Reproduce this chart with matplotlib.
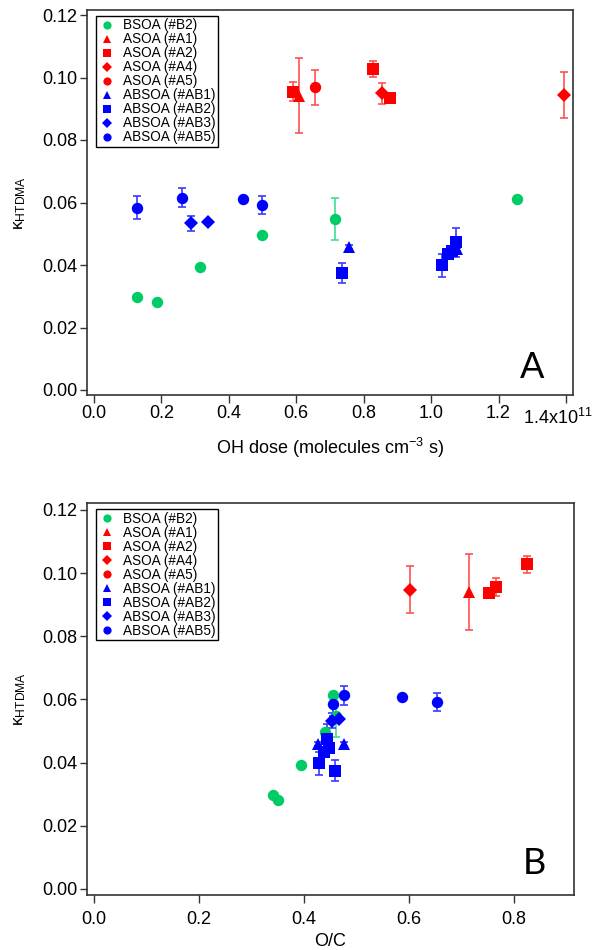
import matplotlib
matplotlib.use("Agg")
import matplotlib.pyplot as plt
from matplotlib.transforms import ScaledTranslation
import numpy as np

plt.rcParams['font.family'] = ['Liberation Sans', 'DejaVu Sans']
plt.rcParams['mathtext.default'] = 'regular'

# ---------------- data ----------------
labels = ["BSOA (#B2)", "ASOA (#A1)", "ASOA (#A2)", "ASOA (#A4)", "ASOA (#A5)",
          "ABSOA (#AB1)", "ABSOA (#AB2)", "ABSOA (#AB3)", "ABSOA (#AB5)"]
markers = ["o", "^", "s", "D", "o", "^", "s", "D", "o"]
colors = ["#00CC66", "#FF0000", "#FF0000", "#FF0000", "#FF0000",
          "#0000FF", "#0000FF", "#0000FF", "#0000FF"]
ecolors = ["#40DD90", "#FF5050", "#FF5050", "#FF5050", "#FF5050",
           "#3A3AFF", "#3A3AFF", "#3A3AFF", "#3A3AFF"]

# Panel A: OH dose (units of 1e11 molecules cm^-3 s), kappa, kappa error
oh_B2 = [0.128, 0.186, 0.315, 0.497, 0.714, 1.254]
kA_B2 = [0.0297, 0.0283, 0.0393, 0.0496, 0.0547, 0.0612]
eA_B2 = [0, 0, 0, 0, 0.0066, 0]

oh_A1 = [0.608]
kA_A1 = [0.0941]
eA_A1 = [0.0120]

oh_A2 = [0.589, 0.827, 0.879]
kA_A2 = [0.0955, 0.1027, 0.0936]
eA_A2 = [0.0030, 0.0025, 0]

oh_A4 = [0.854, 1.394]
kA_A4 = [0.0949, 0.0945]
eA_A4 = [0.0034, 0.0074]

oh_A5 = [0.655]
kA_A5 = [0.0969]
eA_A5 = [0.0056]

oh_AB1 = [0.755, 1.077]
kA_AB1 = [0.0457, 0.0450]
eA_AB1 = [0.0006, 0.0006]

oh_AB2 = [0.736, 1.033, 1.051, 1.061, 1.073]
kA_AB2 = [0.0374, 0.0399, 0.0435, 0.0446, 0.0473]
eA_AB2 = [0.0032, 0.0037, 0, 0, 0.0047]

oh_AB3 = [0.288, 0.337]
kA_AB3 = [0.0534, 0.0537]
eA_AB3 = [0.0024, 0]

oh_AB5 = [0.127, 0.261, 0.442, 0.499]
kA_AB5 = [0.0584, 0.0615, 0.0610, 0.0591]
eA_AB5 = [0.0037, 0.0030, 0, 0.0029]

# Panel B: O/C, kappa, kappa error
oc_B2 = [0.340, 0.350, 0.394, 0.440, 0.461, 0.455]
kB_B2 = [0.0298, 0.0282, 0.0392, 0.0496, 0.0547, 0.0613]
eB_B2 = [0, 0, 0, 0, 0.0066, 0]

oc_A1 = [0.714]
kB_A1 = [0.0941]
eB_A1 = [0.0120]

oc_A2 = [0.752, 0.765, 0.825]
kB_A2 = [0.0936, 0.0956, 0.1028]
eB_A2 = [0, 0.0030, 0.0027]

oc_A4 = [0.601]
kB_A4 = [0.0947]
eB_A4 = [0.0074]

oc_A5 = []
kB_A5 = []
eB_A5 = []

oc_AB1 = [0.427, 0.476]
kB_AB1 = [0.0459, 0.0458]
eB_AB1 = [0.0006, 0.0006]

oc_AB2 = [0.458, 0.429, 0.438, 0.447, 0.443]
kB_AB2 = [0.0374, 0.0398, 0.0435, 0.0446, 0.0476]
eB_AB2 = [0.0033, 0.0037, 0, 0, 0.0047]

oc_AB3 = [0.454, 0.467]
kB_AB3 = [0.0533, 0.0538]
eB_AB3 = [0.0024, 0]

oc_AB5 = [0.477, 0.456, 0.586, 0.654]
kB_AB5 = [0.0614, 0.0585, 0.0609, 0.0592]
eB_AB5 = [0.0030, 0.0037, 0, 0.0029]

panelA = [(oh_B2, kA_B2, eA_B2), (oh_A1, kA_A1, eA_A1), (oh_A2, kA_A2, eA_A2),
          (oh_A4, kA_A4, eA_A4), (oh_A5, kA_A5, eA_A5), (oh_AB1, kA_AB1, eA_AB1),
          (oh_AB2, kA_AB2, eA_AB2), (oh_AB3, kA_AB3, eA_AB3), (oh_AB5, kA_AB5, eA_AB5)]
panelB = [(oc_B2, kB_B2, eB_B2), (oc_A1, kB_A1, eB_A1), (oc_A2, kB_A2, eB_A2),
          (oc_A4, kB_A4, eB_A4), (oc_A5, kB_A5, eB_A5), (oc_AB1, kB_AB1, eB_AB1),
          (oc_AB2, kB_AB2, eB_AB2), (oc_AB3, kB_AB3, eB_AB3), (oc_AB5, kB_AB5, eB_AB5)]

yticks = [0.00, 0.02, 0.04, 0.06, 0.08, 0.10, 0.12]
xticksA = [0.0, 0.2, 0.4, 0.6, 0.8, 1.0, 1.2, 1.4]
xticklabelsA = ["0.0", "0.2", "0.4", "0.6", "0.8", "1.0", "1.2", "1.4x10$^{11}$"]
xticksB = [0.0, 0.2, 0.4, 0.6, 0.8]

msizes = {"o": 8.2, "s": 8.2, "^": 8.8, "D": 7.0}

W, H = 604, 950
fig = plt.figure(figsize=(W / 100, H / 100), dpi=100)


def make_axes(left, top, right, bottom):
    return fig.add_axes([left / W, 1 - bottom / H, (right - left) / W, (bottom - top) / H])


axA = make_axes(87, 10, 573, 395)
axB = make_axes(87, 503, 574, 895)


def draw(ax, data):
    handles = []
    for (x, y, e), m, c, ec, lab in zip(data, markers, colors, ecolors, labels):
        x = np.asarray(x, float)
        y = np.asarray(y, float)
        e = np.asarray(e, float)
        if len(x):
            sel = e > 0
            if sel.any():
                ax.errorbar(x[sel], y[sel], yerr=e[sel], fmt='none', ecolor=ec,
                            elinewidth=1.2, capsize=3.2, capthick=1.2, zorder=2)
        h, = ax.plot(x, y, linestyle='none', marker=m, color=c, markersize=msizes[m],
                     markeredgewidth=0, label=lab, zorder=3)
        handles.append(h)
    leg = ax.legend(handles=handles, loc='upper left', bbox_to_anchor=(0.018, 0.985),
                    fontsize=9.8, frameon=True, fancybox=False, edgecolor='black',
                    framealpha=1, borderpad=0.2, labelspacing=0.0, handlelength=1.2,
                    handletextpad=0.6, markerscale=0.72, borderaxespad=0)
    leg.get_frame().set_linewidth(1.0)


draw(axA, panelA)
draw(axB, panelB)

for ax in (axA, axB):
    ax.set_yticks(yticks)
    ax.set_yticklabels([f"{v:.2f}" for v in yticks])
    ax.tick_params(axis='both', direction='out', width=1.0, labelsize=13,
                   color='#333333')
    ax.tick_params(axis='y', length=5, pad=2)
    ax.tick_params(axis='x', length=5.8)
    for s in ax.spines.values():
        s.set_linewidth(1.2)
        s.set_color('#333333')
    ax.set_ylabel('κ$_{HTDMA}$', fontsize=12.5)
    ax.yaxis.set_label_coords(-0.138, 0.5)
    ax.yaxis.label.set_va('center')

axA.tick_params(axis='x', pad=1.5)
axB.tick_params(axis='x', pad=6)

axA.set_xlim(-0.0208, 1.421)
axA.set_ylim(-0.0016, 0.1216)
axA.set_xticks(xticksA)
axA.set_xticklabels(xticklabelsA)
last = axA.get_xticklabels()[-1]
last.set_transform(last.get_transform() + ScaledTranslation(-0.08, -0.03, fig.dpi_scale_trans))
axA.set_xlabel('OH dose (molecules cm$^{-3}$ s)', fontsize=13)
axA.xaxis.set_label_coords(0.5, (395 - 448) / 385)
axA.xaxis.label.set_va('center')

axB.set_xlim(-0.0133, 0.914)
axB.set_ylim(-0.0019, 0.1222)
axB.set_xticks(xticksB)
axB.set_xticklabels([f"{v:.1f}" for v in xticksB])
axB.set_xlabel('O/C', fontsize=13)
axB.xaxis.set_label_coords(0.5, (895 - 941) / 392)
axB.xaxis.label.set_va('center')

axA.text(532 / W, 1 - 367 / H, 'A', transform=fig.transFigure, fontsize=26,
         family=['Lato', 'DejaVu Sans'], ha='center', va='center')
axB.text(534 / W, 1 - 864 / H, 'B', transform=fig.transFigure, fontsize=26,
         family=['Lato', 'DejaVu Sans'], ha='center', va='center')

fig.savefig('out.png', dpi=100)
